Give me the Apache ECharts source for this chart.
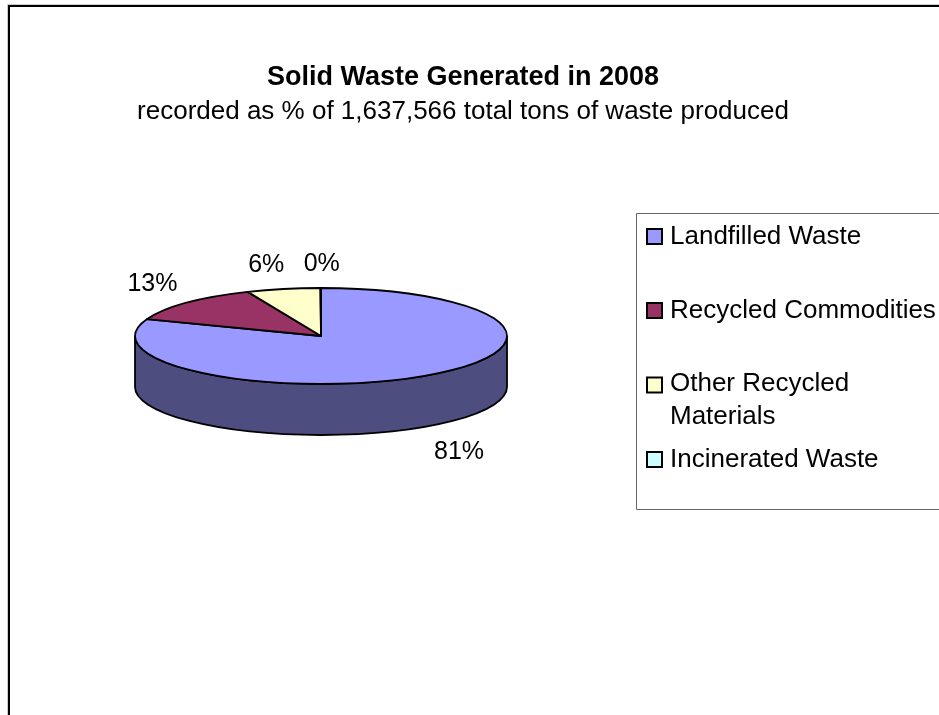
<!DOCTYPE html>
<html>
<head>
<meta charset="utf-8">
<style>html,body{margin:0;padding:0;background:#fff}#c{width:939px;height:715px}</style>
<script src="https://cdn.jsdelivr.net/npm/echarts@6/dist/echarts.min.js"></script>
</head>
<body>
<div id="c"></div>
<script>
const categories = ['Landfilled Waste', 'Recycled Commodities', 'Other Recycled Materials', 'Incinerated Waste'];
const values = [80.7, 12.85, 6.4, 0.05];
const colors = ['#9999FF', '#993366', '#FFFFCC', '#CCFFFF'];
const sideColors = ['#4D4D80', '#4D1A33', '#808066', '#668080'];

const FONT = '"Liberation Sans", Arial, sans-serif';
const cx = 321, cy = 336, rx = 186, ry = 48, depth = 51;
const labelNudge = [[32, 26], [-34, -19], [-17, -24], [1, -24]];
const total = values.reduce((a, b) => a + b, 0);

function pt(t, dy) {
  return [cx + rx * Math.sin(t), cy - ry * Math.cos(t) + (dy || 0)];
}
function startOf(i) {
  let s = 0;
  for (let k = 0; k < i; k++) s += values[k];
  return s / total * 2 * Math.PI;
}
function renderSlice(i) {
  return function (params, api) {
    const v = api.value(0);
    const t0 = startOf(i), t1 = t0 + v / total * 2 * Math.PI;
    const children = [];
    const a = Math.max(t0, Math.PI / 2), b = Math.min(t1, 1.5 * Math.PI);
    if (b > a) {
      const p = pt(a), q = pt(b), p2 = pt(a, depth), q2 = pt(b, depth);
      children.push({
        type: 'path',
        shape: { pathData: `M${p} A${rx} ${ry} 0 0 1 ${q} L${q2} A${rx} ${ry} 0 0 0 ${p2} Z` },
        style: { fill: sideColors[i], stroke: '#000', lineWidth: 1.8 }
      });
    }
    const p0 = pt(t0), p1 = pt(t1);
    const large = t1 - t0 > Math.PI ? 1 : 0;
    children.push({
      type: 'path',
      shape: { pathData: `M${cx},${cy} L${p0} A${rx} ${ry} 0 ${large} 1 ${p1} Z` },
      style: { fill: colors[i], stroke: '#000', lineWidth: 1.8, lineJoin: 'round' }
    });
    const mid = (t0 + t1) / 2;
    const front = Math.cos(mid) < 0;
    const anchor = pt(mid, front ? depth : 0);
    children.push({
      type: 'text',
      x: anchor[0] + labelNudge[i][0],
      y: anchor[1] + labelNudge[i][1],
      z2: 10,
      style: {
        text: Math.round(v) + '%',
        fill: '#000',
        font: '25px ' + FONT,
        align: 'center',
        verticalAlign: 'middle'
      }
    });
    return { type: 'group', children };
  };
}

const ICON_TALL = 'path://M0,0H15V15H0Z M0,45L0,45';
const legendTops = [220, 294, 367, 443];
const legendBoxes = categories.map((name, i) => ({
  data: [name],
  orient: 'vertical',
  left: 646,
  top: legendTops[i],
  padding: 0,
  selectedMode: false,
  itemWidth: 15,
  itemHeight: i === 2 ? 45 : 15,
  itemGap: 0,
  icon: i === 2 ? ICON_TALL : 'rect',
  itemStyle: { color: colors[i], borderColor: '#000', borderWidth: 2 },
  formatter: n => n === 'Other Recycled Materials' ? 'Other Recycled\nMaterials' : n,
  textStyle: { fontFamily: FONT, fontSize: 26, color: '#000', lineHeight: 33, padding: [0, 0, 0, 3] }
}));

const chart = echarts.init(document.getElementById('c'), null, { renderer: 'canvas' });
chart.setOption({
  animation: false,
  backgroundColor: '#fff',
  tooltip: { show: false },
  title: {
    text: 'Solid Waste Generated in 2008',
    subtext: 'recorded as % of 1,637,566 total tons of waste produced',
    left: 463,
    top: 64,
    textAlign: 'center',
    padding: 0,
    itemGap: 8,
    textStyle: { fontFamily: FONT, fontSize: 27, fontWeight: 'bold', color: '#000' },
    subtextStyle: { fontFamily: FONT, fontSize: 26, color: '#000' }
  },
  legend: legendBoxes,
  graphic: [
    { type: 'rect', z: 0, silent: true, shape: { x: 7.5, y: 4.5, width: 1000, height: 800 }, style: { fill: 'none', stroke: '#ccc', lineWidth: 1 } },
    { type: 'rect', z: 0, silent: true, shape: { x: 9, y: 6, width: 1000, height: 800 }, style: { fill: '#fff', stroke: '#000', lineWidth: 2 } },
    { type: 'rect', z: 1, silent: true, shape: { x: 636.5, y: 213.5, width: 400, height: 296 }, style: { fill: '#fff', stroke: '#666', lineWidth: 1 } }
  ],
  series: categories.map((name, i) => ({
    type: 'custom',
    name,
    coordinateSystem: 'none',
    silent: true,
    z: 2,
    itemStyle: { color: colors[i] },
    data: [[values[i]]],
    renderItem: renderSlice(i)
  }))
});
</script>
</body>
</html>
